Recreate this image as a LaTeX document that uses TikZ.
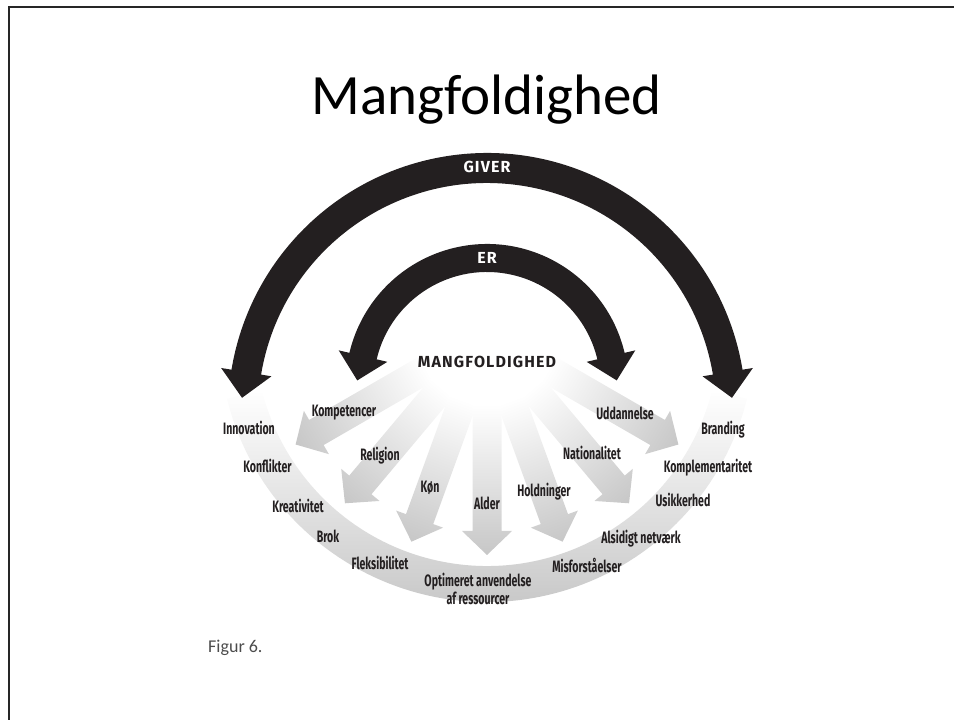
\documentclass[tikz,border=0pt]{standalone}
\usepackage{fontspec}
\setmainfont{Carlito}
\newfontfamily\labfont[FakeStretch=0.64]{Fira Sans}
\newfontfamily\capfont[LetterSpace=7]{Fira Sans}
\definecolor{ink}{HTML}{231F20}
\tikzset{
  lab/.style={font=\labfont\bfseries\fontsize{16.5}{18}\selectfont, anchor=base, inner sep=0pt, text=ink},
  caplab/.style={font=\capfont\bfseries\fontsize{16}{18}\selectfont, inner sep=0pt},
  fanshade/.style={top color=white, bottom color=black!22},
  ringshade/.style={top color=white, bottom color=black!24},
  blk/.style={fill=ink},
  frameline/.style={draw=black!85, line width=2pt}
}
\begin{document}
\begin{tikzpicture}[x=1pt,y=1pt]
\useasboundingbox (0,0) rectangle (954,720);
% slide frame
\draw[frameline] (9,0) -- (9,713) -- (954,713);
% title
\node[font=\fontsize{57}{62}\selectfont, anchor=base, inner sep=0pt] (title) at (486.5,605) {Mangfoldighed};
% gray ring
\begin{scope}[shift={(487,386)}]
\shade[ringshade] (-166:268) arc[start angle=-166, end angle=-14, radius=268]
  -- (-14:232) arc[start angle=-14, end angle=-166, radius=232] -- cycle;
\end{scope}
% fan arrows
\foreach \a in {-60,-40,-20,0,20,40,60}{
  \begin{scope}[transform canvas={rotate around={\a:(487,386)}}]
  \shade[fanshade] (472.5,316) -- (472.5,189) -- (462,189) -- (487,165)
    -- (512,189) -- (501.5,189) -- (501.5,316) -- cycle;
  \end{scope}
}
% GIVER arrow
\begin{scope}[shift={(487,308)}]
\fill[blk] (9.4:259) arc[start angle=9.4, end angle=170.6, radius=259]
  -- (170.6:269.5) -- (-244.97,14.2) -- (170.6:218.5) -- (170.6:229)
  arc[start angle=170.6, end angle=9.4, radius=229]
  -- (9.4:218.5) -- (244.97,14.2) -- (9.4:269.5) -- cycle;
\end{scope}
% ER arrow
\begin{scope}[shift={(487,334.6)}]
\fill[blk] (13.3:141.4) arc[start angle=13.3, end angle=166.7, radius=141.4]
  -- (166.7:152.4) -- (-129.73,4.98) -- (166.7:102.4) -- (166.7:113.4)
  arc[start angle=166.7, end angle=13.3, radius=113.4]
  -- (13.3:102.4) -- (129.73,4.98) -- (13.3:152.4) -- cycle;
\end{scope}
% arc labels
\node[caplab, text=white] (giver) at (487,553) {GIVER};
\node[caplab, text=white] (er) at (487,462) {ER};
\node[caplab, text=ink] (mang) at (487,358) {MANGFOLDIGHED};
% fan labels
\node[lab] (komp) at (344,303) {Kompetencer};
\node[lab] (relig) at (380,259) {Religion};
\node[lab] (kon) at (430,227) {Køn};
\node[lab] (alder) at (487,210) {Alder};
\node[lab] (hold) at (544,223) {Holdninger};
\node[lab] (nat) at (592,260) {Nationalitet};
\node[lab] (udd) at (625,300) {Uddannelse};
% ring labels
\node[lab] (innov) at (249,285) {Innovation};
\node[lab] (konfl) at (267.5,247) {Konflikter};
\node[lab] (kreat) at (298,207) {Kreativitet};
\node[lab] (brok) at (328,177) {Brok};
\node[lab] (fleks) at (380,150) {Fleksibilitet};
\node[lab, anchor=north, align=center] (optim) at (478,147) {Optimeret anvendelse\\af ressourcer};
\node[lab] (misf) at (587,147) {Misforståelser};
\node[lab] (alsid) at (641,176) {Alsidigt netværk};
\node[lab] (usik) at (683,213) {Usikkerhed};
\node[lab] (kompl) at (708,247) {Komplementaritet};
\node[lab] (brand) at (723,285) {Branding};
% caption
\node[font=\fontsize{18}{20}\selectfont, text=black!70, anchor=base west, inner sep=0pt] (fig) at (208,67) {Figur 6.};
\end{tikzpicture}
\end{document}
